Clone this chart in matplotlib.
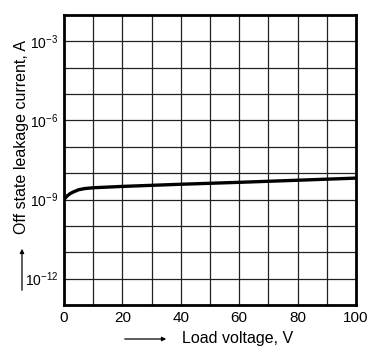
import matplotlib
matplotlib.use("Agg")
import matplotlib.pyplot as plt
import numpy as np

plt.rcParams['font.family'] = ['Liberation Sans', 'DejaVu Sans']
plt.rcParams['mathtext.fontset'] = 'custom'
plt.rcParams['mathtext.rm'] = 'Liberation Sans'
plt.rcParams['mathtext.it'] = 'Liberation Sans'

# Leakage current vs. load voltage
voltage = [0, 1, 2, 3, 5, 7, 10, 20, 40, 60, 80, 100]
leakage = [1.0e-9, 1.35e-9, 1.65e-9, 1.9e-9, 2.35e-9, 2.6e-9, 2.8e-9,
           3.15e-9, 3.8e-9, 4.5e-9, 5.4e-9, 6.5e-9]

x_ticks = [0, 20, 40, 60, 80, 100]
y_ticks = [1e-12, 1e-9, 1e-6, 1e-3]
y_tick_labels = [r'$10^{-12}$', r'$10^{-9}$', r'$10^{-6}$', r'$10^{-3}$']

fig = plt.figure(figsize=(3.81, 3.49), dpi=100)
ax = fig.add_axes([64 / 381, 1 - 305 / 349, 292 / 381, 290 / 349])

ax.plot(voltage, leakage, color='black', lw=2.4, solid_capstyle='butt', zorder=3)

ax.set_yscale('log')
ax.set_xlim(0, 100)
ax.set_ylim(1e-13, 1e-2)

# grid: every 10 V and every decade
for xv in range(10, 100, 10):
    ax.axvline(xv, color='#222222', lw=0.9, zorder=1)
for e in range(-12, -2):
    ax.axhline(10.0 ** e, color='#222222', lw=0.9, zorder=1)

ax.set_xticks(x_ticks)
ax.set_xticklabels([str(v) for v in x_ticks], fontsize=11)
ax.set_yticks(y_ticks)
ax.set_yticklabels(y_tick_labels, fontsize=10)
ax.yaxis.set_minor_locator(matplotlib.ticker.NullLocator())
ax.tick_params(length=0, pad=4)

for s in ax.spines.values():
    s.set_linewidth(2.0)
    s.set_color('black')

# axis titles with leading arrows
fig.text(182 / 381, 1 - 339 / 349, 'Load voltage, V', fontsize=11.5,
         ha='left', va='center')
fig.add_artist(matplotlib.patches.FancyArrowPatch(
    (122 / 381, 1 - 339 / 349), (169 / 381, 1 - 339 / 349),
    transform=fig.transFigure, arrowstyle='-|>', mutation_scale=6,
    lw=0.9, color='black'))

fig.text(22 / 381, 1 - 234 / 349, 'Off state leakage current, A', fontsize=11.5,
         rotation=90, ha='center', va='bottom')
fig.add_artist(matplotlib.patches.FancyArrowPatch(
    (22 / 381, 1 - 293 / 349), (22 / 381, 1 - 246 / 349),
    transform=fig.transFigure, arrowstyle='-|>', mutation_scale=6,
    lw=0.9, color='black'))

fig.savefig('out.png', dpi=100)
